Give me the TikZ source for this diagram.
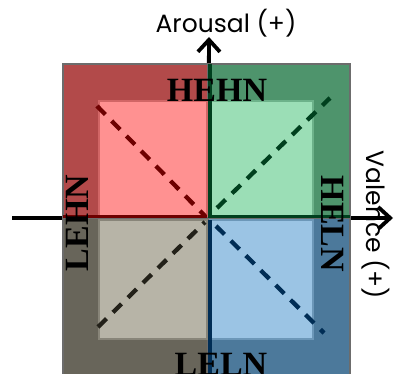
\documentclass[tikz,border=0pt]{standalone}
\usepackage{fontspec}
\setmainfont{Liberation Serif}
\newfontfamily\gothic{Poppins}
\usepackage{tikz}
\usetikzlibrary{arrows.meta}
\definecolor{redout}{RGB}{178,74,74}
\definecolor{redin}{RGB}{255,145,145}
\definecolor{redline}{RGB}{110,0,0}
\definecolor{grnout}{RGB}{78,148,108}
\definecolor{grnin}{RGB}{155,222,182}
\definecolor{grnline}{RGB}{0,64,30}
\definecolor{gryout}{RGB}{104,101,90}
\definecolor{gryin}{RGB}{183,180,167}
\definecolor{gryline}{RGB}{35,33,25}
\definecolor{bluout}{RGB}{76,121,155}
\definecolor{bluin}{RGB}{155,196,228}
\definecolor{bluline}{RGB}{0,45,85}
\definecolor{rim}{RGB}{108,108,108}

\begin{document}
\begin{tikzpicture}[x=1pt,y=-1pt]
\tikzset{axis/.style={line width=3.8pt,-{Straight Barb[length=12pt,width=22pt,line width=3.8pt]}},
  quad/.style={draw=rim,line width=2pt},
  inner/.style={line width=1.5pt},
  diag/.style={line width=4.3pt,dash pattern=on 12pt off 9pt},
  lab/.style={font=\fontsize{34}{34}\selectfont\bfseries,inner sep=0pt,anchor=base},
  axlab/.style={font=\gothic\fontsize{25}{25}\selectfont,inner sep=0pt,anchor=base}}
\useasboundingbox (0,0) rectangle (396,374);
\clip (0,0) rectangle (396,374);
\coordinate (o) at (208,218);
\coordinate (west) at (12,218);
\coordinate (east) at (393,218);
\coordinate (north) at (209,37);
% axes go underneath the quadrants
\draw[axis] (west) -- (east);
\draw[axis] (o) -- (north);
% outer quadrants
\filldraw[quad,fill=redout] (63,64) rectangle (o);
\filldraw[quad,fill=grnout] (350,64) rectangle (o);
\filldraw[quad,fill=gryout] (63,390) rectangle (o);
\filldraw[quad,fill=bluout] (350,390) rectangle (o);
% inner squares
\filldraw[inner,draw=redout!60!redin,fill=redin] (99,101) rectangle (207,216);
\filldraw[inner,draw=grnout!60!grnin,fill=grnin] (210,101) rectangle (313,216);
\filldraw[inner,draw=gryout!60!gryin,fill=gryin] (99,220) rectangle (207,339);
\filldraw[inner,draw=bluout!60!bluin,fill=bluin] (210,220) rectangle (313,339);
% dark edges along the axes
\draw[redline,line width=3pt] (63,216) -- (207,216);
\draw[grnline,line width=3.5pt] (210,64) -- (210,216.5) -- (350,216.5);
\draw[bluline,line width=3.5pt] (210,220) -- (210,390);
% diagonals
\draw[diag,redline] (97,106) -- (205,216);
\draw[diag,grnline] (217,208) -- (330,98);
\draw[diag,gryline] (98,327) -- (205,222);
\draw[diag,bluline] (216,226) -- (324,333);
% labels
\node[lab] (hehn) at (217,102) {HEHN};
\node[lab,rotate=90] (lehn) at (88,223) {LEHN};
\node[lab,rotate=-90] (heln) at (321,224) {HELN};
\node[lab] (leln) at (221,375) {LELN};
\node[axlab] (arousal) at (226,33) {Arousal (+)};
\node[axlab,rotate=-90] (valence) at (366,225) {Valence (+)};
\end{tikzpicture}
\end{document}
